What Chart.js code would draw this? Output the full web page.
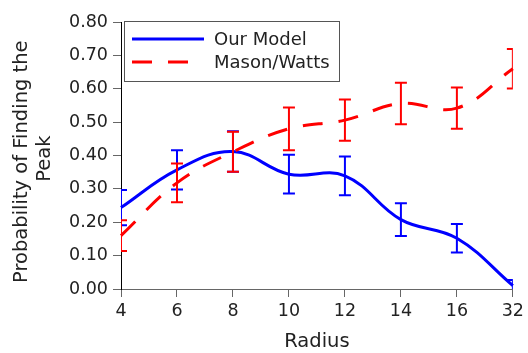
<!DOCTYPE html>
<html>
<head>
<meta charset="utf-8">
<script src="https://cdn.jsdelivr.net/npm/chart.js@4.4.0/dist/chart.umd.min.js"></script>
<style>
  html, body { margin: 0; padding: 0; background: #fff; }
  #wrap { width: 528px; height: 353px; }
</style>
</head>
<body>
<div id="wrap"><canvas id="c" width="528" height="353"></canvas></div>
<script>
/* Datos */
const radius        = ['4', '6', '8', '10', '12', '14', '16', '32'];
const ourModel      = [0.244, 0.357, 0.412, 0.344, 0.339, 0.208, 0.152, 0.010];
const ourModelErr   = [0.053, 0.059, 0.061, 0.058, 0.058, 0.049, 0.043, 0.017];
const masonWatts    = [0.160, 0.318, 0.411, 0.480, 0.506, 0.556, 0.542, 0.660];
const masonWattsErr = [0.046, 0.058, 0.060, 0.064, 0.062, 0.062, 0.062, 0.059];

const FONT = "'DejaVu Sans', sans-serif";
const INK  = '#222';

/* Barras de error: se pintan justo después de cada dataset, recortadas al área */
const errorBars = {
  id: 'errorBars',
  afterDatasetDraw(chart, args) {
    const ds = chart.data.datasets[args.index];
    if (!ds.errors) return;
    const { ctx, chartArea: a } = chart;
    const y = chart.scales.y;
    ctx.save();
    ctx.beginPath();
    ctx.rect(a.left, a.top, a.right - a.left, a.bottom - a.top);
    ctx.clip();
    ctx.strokeStyle = ds.borderColor;
    ctx.lineWidth = 2;
    ctx.setLineDash([]);
    args.meta.data.forEach((pt, i) => {
      const top = y.getPixelForValue(ds.data[i] + ds.errors[i]);
      const bot = y.getPixelForValue(ds.data[i] - ds.errors[i]);
      ctx.beginPath();
      ctx.moveTo(pt.x, top);     ctx.lineTo(pt.x, bot);
      ctx.moveTo(pt.x - 6, top); ctx.lineTo(pt.x + 6, top);
      ctx.moveTo(pt.x - 6, bot); ctx.lineTo(pt.x + 6, bot);
      ctx.stroke();
    });
    ctx.restore();
  }
};

/* Leyenda con recuadro dentro del área, arriba a la izquierda */
const boxLegend = {
  id: 'boxLegend',
  afterDraw(chart) {
    const { ctx, chartArea: a } = chart;
    const x0 = a.left + 3, y0 = a.top - 1, w = 215, h = 60;
    ctx.save();
    ctx.fillStyle = '#fff';
    ctx.fillRect(x0, y0, w, h);
    ctx.strokeStyle = '#555';
    ctx.lineWidth = 1;
    ctx.strokeRect(x0 + 0.5, y0 + 0.5, w, h);
    const rows = [chart.data.datasets[0], chart.data.datasets[1]];
    rows.forEach((ds, i) => {
      const ly = y0 + 18 + i * 23;
      ctx.strokeStyle = ds.borderColor;
      ctx.lineWidth = 3;
      ctx.setLineDash(ds.borderDash || []);
      ctx.beginPath();
      ctx.moveTo(x0 + 8, ly);
      ctx.lineTo(x0 + 80, ly);
      ctx.stroke();
      ctx.setLineDash([]);
      ctx.fillStyle = INK;
      ctx.font = `18px ${FONT}`;
      ctx.textBaseline = 'middle';
      ctx.fillText(ds.label, x0 + 90, ly + 1);
    });
    ctx.restore();
  }
};

new Chart(document.getElementById('c'), {
  type: 'line',
  data: {
    labels: radius,
    datasets: [{
      label: 'Our Model',
      data: ourModel,
      errors: ourModelErr,
      borderColor: '#0000ff',
      borderWidth: 3,
      tension: 0.4,
      pointRadius: 0,
      fill: false,
      order: 2,
    }, {
      label: 'Mason/Watts',
      data: masonWatts,
      errors: masonWattsErr,
      borderColor: '#ff0000',
      borderWidth: 3,
      borderDash: [20, 16],
      tension: 0.4,
      pointRadius: 0,
      fill: false,
      order: 1,
    }],
  },
  options: {
    responsive: false,
    animation: false,
    layout: { padding: { top: 22, right: 13, left: 0, bottom: 0 } },
    plugins: { legend: { display: false }, tooltip: { enabled: false } },
    scales: {
      x: {
        type: 'category',
        offset: false,
        afterFit: (s) => { s.height = 64; },
        grid:   { drawOnChartArea: false, tickLength: 8, color: '#666' },
        border: { color: '#666', width: 1 },
        ticks:  { color: INK, font: { family: FONT, size: 17.5 }, padding: 4, maxRotation: 0, autoSkip: false },
        title:  { display: true, text: 'Radius', color: INK, font: { family: FONT, size: 19.5 }, padding: { top: 0, bottom: -1 } },
      },
      y: {
        min: 0,
        max: 0.8,
        afterFit: (s) => { s.width = 121; },
        grid:   { drawOnChartArea: false, tickLength: 8, color: '#666' },
        border: { color: '#000', width: 1 },
        ticks:  { stepSize: 0.1, color: INK, font: { family: FONT, size: 17.5 }, padding: 5,
                  callback: (v) => v.toFixed(2) },
        // espacios finales para bajar un poco el título centrado
        title:  { display: true, text: ['Probability of Finding the  ', 'Peak '], color: INK,
                  font: { family: FONT, size: 19.5 }, padding: { top: 10, bottom: 0 } },
      },
    },
  },
  plugins: [errorBars, boxLegend],
});
</script>
</body>
</html>
